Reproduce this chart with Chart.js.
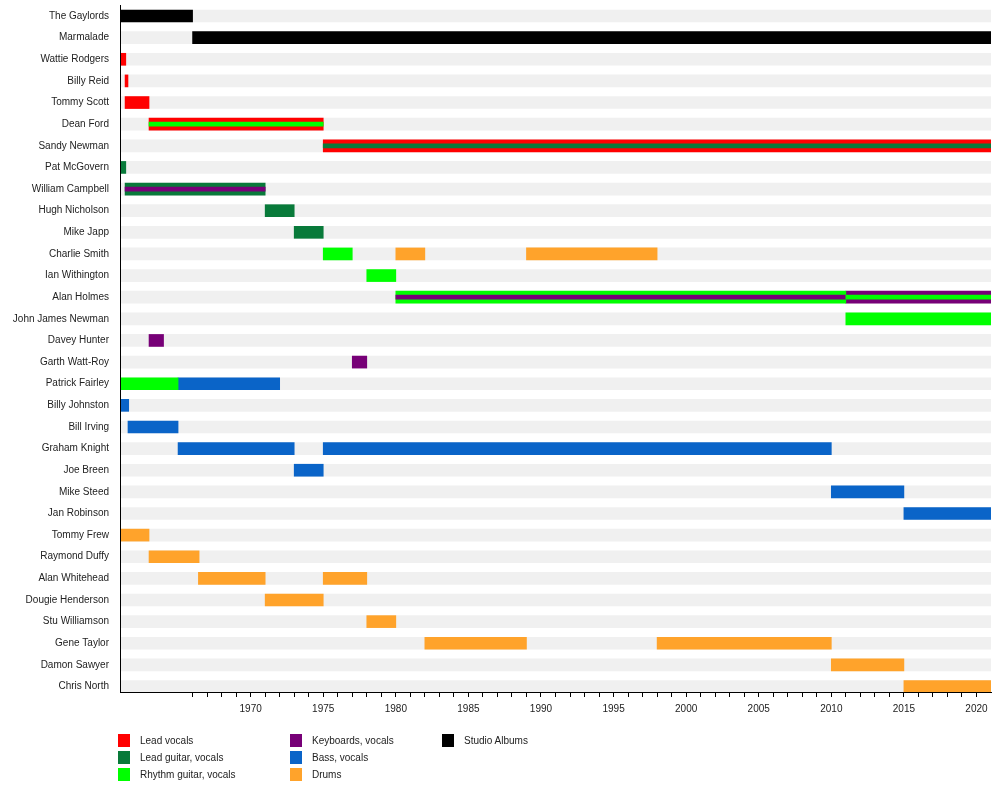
<!DOCTYPE html>
<html>
<head>
<meta charset="utf-8">
<title>Marmalade members timeline</title>
<script src="https://cdn.jsdelivr.net/npm/chart.js@4.4.0/dist/chart.umd.min.js"></script>
<style>
  body { margin: 0; background: #fff; }
  #wrap { position: relative; width: 1000px; height: 792px; }
  #legend {
    position: absolute; left: 118px; top: 734px;
    display: grid; grid-auto-flow: column;
    grid-template-rows: repeat(3, 17px);
    grid-template-columns: 172px 152px 140px;
    font: 10px 'Liberation Sans', Arial, sans-serif; color: #222;
  }
  .item { display: flex; line-height: 13px; }
  .swatch { width: 12px; height: 13px; margin-right: 10px; }
</style>
</head>
<body>
<div id="wrap">
  <canvas id="timeline" width="1000" height="792"></canvas>
  <div id="legend"></div>
</div>
<script>
'use strict';

// ***** DATA *****
const members = [
  'The Gaylords', 'Marmalade', 'Wattie Rodgers', 'Billy Reid', 'Tommy Scott',
  'Dean Ford', 'Sandy Newman', 'Pat McGovern', 'William Campbell', 'Hugh Nicholson',
  'Mike Japp', 'Charlie Smith', 'Ian Withington', 'Alan Holmes', 'John James Newman',
  'Davey Hunter', 'Garth Watt-Roy', 'Patrick Fairley', 'Billy Johnston', 'Bill Irving',
  'Graham Knight', 'Joe Breen', 'Mike Steed', 'Jan Robinson', 'Tommy Frew',
  'Raymond Duffy', 'Alan Whitehead', 'Dougie Henderson', 'Stu Williamson', 'Gene Taylor',
  'Damon Sawyer', 'Chris North'
];

const startYear = 1961;
const endYear = 2021;
const labelYears = [1970, 1975, 1980, 1985, 1990, 1995, 2000, 2005, 2010, 2015, 2020];
const firstMinorYear = 1966;

// [member, from, till]
const leadVocals = [
  ['Wattie Rodgers', 1961, 1961.4], ['Billy Reid', 1961.35, 1961.55],
  ['Tommy Scott', 1961.35, 1963], ['Dean Ford', 1963, 1975], ['Sandy Newman', 1975, 2021]
];
const leadGuitar = [
  ['Pat McGovern', 1961, 1961.4], ['William Campbell', 1961.35, 1971],
  ['Hugh Nicholson', 1971, 1973], ['Mike Japp', 1973, 1975]
];
const rhythmGuitar = [
  ['Charlie Smith', 1975, 1977], ['Ian Withington', 1978, 1980], ['Alan Holmes', 1980, 2011],
  ['John James Newman', 2011, 2021], ['Patrick Fairley', 1961, 1965]
];
const keyboards = [
  ['Davey Hunter', 1963, 1964], ['Garth Watt-Roy', 1977, 1978], ['Alan Holmes', 2011, 2021]
];
const bass = [
  ['Patrick Fairley', 1965, 1972], ['Billy Johnston', 1961, 1961.6], ['Bill Irving', 1961.55, 1965],
  ['Graham Knight', 1965, 1973], ['Graham Knight', 1975, 2010], ['Joe Breen', 1973, 1975],
  ['Mike Steed', 2010, 2015], ['Jan Robinson', 2015, 2021]
];
const drums = [
  ['Charlie Smith', 1980, 1982], ['Charlie Smith', 1989, 1998], ['Tommy Frew', 1961, 1963],
  ['Raymond Duffy', 1963, 1966.45], ['Alan Whitehead', 1966.4, 1971], ['Alan Whitehead', 1975, 1978],
  ['Dougie Henderson', 1971, 1975], ['Stu Williamson', 1978, 1980], ['Gene Taylor', 1982, 1989],
  ['Gene Taylor', 1998, 2010], ['Damon Sawyer', 2010, 2015], ['Chris North', 2015, 2021]
];
const studioAlbums = [['The Gaylords', 1961, 1966], ['Marmalade', 1966, 2021]];

// second role, drawn as a thin stripe through the middle of the bar
const stripeLeadGuitar = [['Sandy Newman', 1975, 2021]];
const stripeRhythm = [['Dean Ford', 1963, 1975], ['Alan Holmes', 2011, 2021]];
const stripeKeyboards = [['William Campbell', 1961.35, 1971], ['Alan Holmes', 1980, 2011]];

const roleLabels = ['Lead vocals', 'Lead guitar, vocals', 'Rhythm guitar, vocals',
  'Keyboards, vocals', 'Bass, vocals', 'Drums', 'Studio Albums'];
const roleColors = ['#ff0000', '#087a3a', '#00ff00', '#770077', '#0a64c8', '#ffa32b', '#000000'];
const roleSpans = [leadVocals, leadGuitar, rhythmGuitar, keyboards, bass, drums, studioAlbums];

// ***** BUILD DATASETS *****
function toBars(spans) {
  return spans.map(s => ({ y: members.indexOf(s[0]), x: [s[1], s[2]] }));
}

let datasets = [];

// light gray lane behind every member
datasets.push({
  label: 'lane',
  data: members.map((m, i) => ({ y: i, x: [startYear, endYear] })),
  backgroundColor: '#f0f0f0',
  barThickness: 12,
  order: 3
});

for (let i = 0; i < roleLabels.length; i++) {
  datasets.push({
    label: roleLabels[i],
    data: toBars(roleSpans[i]),
    backgroundColor: roleColors[i],
    barThickness: 12,
    order: 2
  });
}

const stripes = [[stripeLeadGuitar, roleColors[1]], [stripeRhythm, roleColors[2]], [stripeKeyboards, roleColors[3]]];
stripes.forEach(st => {
  datasets.push({
    label: 'stripe',
    data: toBars(st[0]),
    backgroundColor: st[1],
    barThickness: 4,
    order: 1
  });
});

// ***** CHART *****
const tickFont = { family: "'Liberation Sans', Arial, sans-serif", size: 10 };

const ctx = document.getElementById('timeline').getContext('2d');
new Chart(ctx, { // eslint-disable-line
  type: 'bar',
  data: { datasets: datasets },
  options: {
    indexAxis: 'y',
    responsive: false,
    animation: false,
    borderWidth: 0,
    layout: { padding: { left: 0, right: 9, top: 5, bottom: 70 } },
    plugins: { legend: { display: false }, tooltip: { enabled: false } },
    datasets: { bar: { grouped: false } },
    scales: {
      x: {
        type: 'linear',
        min: startYear,
        max: endYear,
        offset: false,
        afterBuildTicks: scale => {
          let ticks = [];
          for (let y = firstMinorYear; y <= 2020; y++) ticks.push({ value: y });
          scale.ticks = ticks;
        },
        afterFit: scale => {
          scale.height = 30;
          scale.paddingLeft = 0;
          scale.paddingRight = 0;
        },
        grid: { drawOnChartArea: false, tickLength: 5, color: '#000' },
        border: { color: '#000', width: 1, z: 1 },
        ticks: {
          autoSkip: false, maxRotation: 0, padding: 6, color: '#222', font: tickFont,
          callback: v => labelYears.includes(v) ? String(v) : ''
        }
      },
      y: {
        type: 'linear',
        reverse: true,
        min: -0.51,
        max: 31.254,
        offset: false,
        afterBuildTicks: scale => { scale.ticks = members.map((m, i) => ({ value: i })); },
        afterFit: scale => {
          scale.width = 120;
          scale.paddingTop = 0;
          scale.paddingBottom = 0;
        },
        grid: { display: false, drawTicks: false, offset: false },
        border: { color: '#000', width: 1, z: 1 },
        ticks: {
          autoSkip: false, padding: 11, color: '#222', font: tickFont,
          callback: v => members[v]
        }
      }
    }
  }
});

// ***** LEGEND (column-major like the original) *****
const legend = document.getElementById('legend');
for (let i = 0; i < roleLabels.length; i++) {
  let item = document.createElement('div');
  item.className = 'item';
  item.innerHTML = '<span class="swatch" style="background:' + roleColors[i] + '"></span>' + roleLabels[i];
  legend.appendChild(item);
}
</script>
</body>
</html>
